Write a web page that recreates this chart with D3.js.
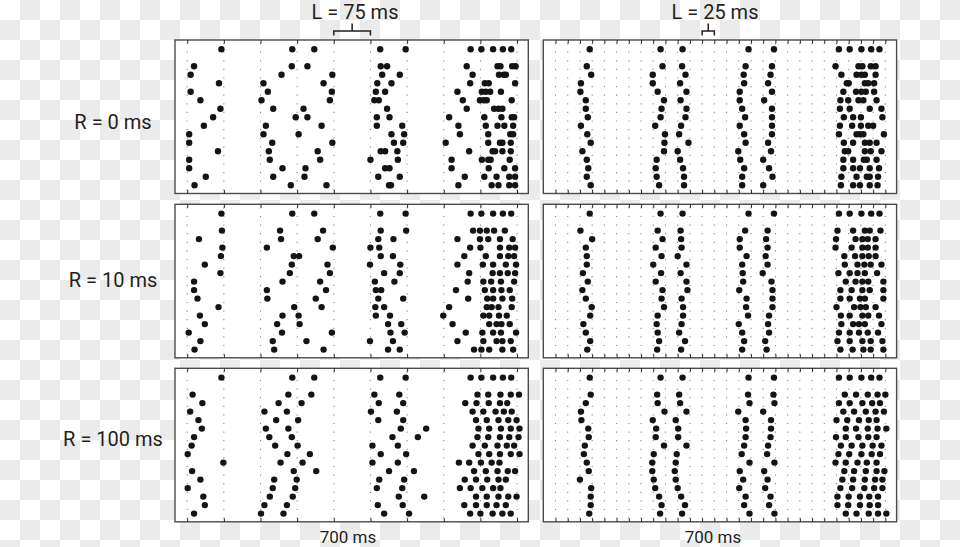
<!DOCTYPE html>
<html><head><meta charset="utf-8">
<script src="https://cdn.jsdelivr.net/npm/d3@7"></script>
<style>html,body{margin:0;padding:0;background:#fff;} svg{display:block;}</style>
</head><body><svg id="c" width="960" height="547"></svg>
<script>
// ---------- data (spike times in ms) ----------
const template = [95, 240, 285, 420, 472, 605, 627, 651, 671, 688];
const rowLabels = ["R = 0 ms", "R = 10 ms", "R = 100 ms"];
const colLabels = ["L = 75 ms", "L = 25 ms"];
const gridStep = [75, 25];
const bracketStart = [325, 325];
const axisLabel = "700 ms";
const timeDomain = [0, 723];

const trials_R0_L75 = [
 [39, 239, 271, 421, 434, 597, 660, 666, 690, 697],
 [32, 218, 322, 424, 460, 609, 663, 673, 677],
 [90, 181, 304, 414, 443, 604, 634, 642, 696],
 [32, 190, 321, 411, 430, 578, 628, 636, 645, 667],
 [52, 177, 317, 408, 417, 589, 624, 632, 638, 689],
 [93, 201, 263, 434, 597, 653, 662, 670],
 [78, 247, 271, 413, 439, 561, 633, 668, 689, 694],
 [59, 186, 300, 413, 465, 580, 636, 660, 674, 692],
 [29, 181, 253, 443, 469, 583, 641, 686, 692],
 [29, 199, 322, 448, 467, 554, 641, 665, 670, 687],
 [88, 192, 292, 421, 430, 455, 602, 650, 655, 670, 687],
 [29, 194, 297, 400, 456, 566, 628, 641, 646, 685],
 [29, 220, 267, 430, 439, 566, 642, 674, 696],
 [63, 201, 265, 416, 460, 593, 633, 658, 684, 696],
 [40, 237, 310, 438, 442, 580, 648, 662, 684, 696]
];
const trials_R10_L75 = [
 [96, 215, 303, 421, 473, 610, 624, 638, 653, 675],
 [49, 217, 292, 416, 447, 578, 624, 641, 665, 691],
 [97, 188, 323, 400, 418, 604, 625, 665, 684, 696],
 [94, 243, 254, 421, 446, 592, 636, 665, 682, 694],
 [61, 239, 312, 399, 461, 578, 630, 651, 677, 698],
 [93, 235, 317, 428, 460, 602, 650, 665, 681, 696],
 [39, 220, 297, 409, 449, 599, 631, 647, 667, 694],
 [39, 188, 309, 411, 422, 575, 634, 651, 668, 685],
 [46, 189, 288, 416, 467, 600, 639, 651, 670, 690],
 [89, 244, 300, 410, 428, 561, 638, 648, 662, 689],
 [51, 220, 253, 411, 440, 549, 631, 643, 663, 679],
 [61, 209, 255, 436, 463, 568, 643, 658, 668, 685],
 [28, 219, 321, 441, 470, 595, 629, 651, 667, 698],
 [52, 200, 269, 399, 446, 578, 631, 658, 670, 687],
 [40, 203, 304, 436, 460, 612, 627, 643, 670, 692]
];
const trials_R100_L75 = [
 [36, 232, 279, 408, 459, 619, 641, 666, 687, 704],
 [56, 212, 259, 417, 467, 594, 617, 642, 665, 680],
 [31, 183, 229, 401, 454, 609, 631, 656, 673, 689],
 [48, 207, 252, 416, 467, 616, 638, 662, 682, 699],
 [55, 186, 232, 462, 514, 621, 643, 667, 687, 705],
 [39, 193, 239, 445, 497, 619, 641, 665, 684, 703],
 [34, 205, 251, 404, 456, 609, 634, 660, 679, 694],
 [26, 230, 276, 421, 473, 621, 643, 665, 687, 705],
 [99, 216, 261, 404, 456, 581, 602, 626, 648, 664],
 [35, 243, 289, 438, 489, 612, 636, 660, 681, 696],
 [52, 203, 249, 418, 469, 593, 616, 639, 662, 677],
 [26, 200, 246, 413, 465, 583, 605, 629, 651, 666],
 [58, 194, 241, 458, 510, 616, 638, 662, 682, 699],
 [61, 183, 229, 415, 466, 592, 616, 638, 658, 677],
 [39, 176, 222, 428, 479, 604, 625, 650, 670, 687]
];
const trials_R0_L25 = [
 [89, 244, 284, 414, 468, 598, 645, 653, 670, 680],
 [98, 224, 291, 410, 465, 610, 641, 651, 658, 680],
 [77, 224, 280, 411, 460, 621, 625, 658, 665, 677],
 [76, 234, 293, 402, 468, 614, 640, 651, 660, 677],
 [87, 247, 281, 402, 452, 608, 624, 645, 655, 682],
 [87, 242, 293, 407, 468, 607, 627, 668, 692],
 [91, 240, 291, 413, 468, 615, 634, 650, 694],
 [77, 229, 282, 402, 468, 607, 632, 650, 665, 675],
 [90, 249, 278, 411, 468, 605, 641, 648, 655, 697],
 [97, 248, 297, 414, 460, 615, 634, 658, 668, 682],
 [80, 247, 275, 399, 466, 617, 624, 658, 670, 692],
 [89, 232, 280, 403, 450, 614, 634, 656, 662, 682],
 [92, 230, 286, 411, 462, 614, 634, 648, 668, 687],
 [89, 232, 288, 407, 469, 610, 641, 662, 668, 685],
 [97, 237, 288, 407, 450, 609, 634, 648, 668, 684]
];
const trials_R10_L25 = [
 [76, 234, 281, 413, 459, 602, 634, 658, 668, 690],
 [100, 244, 282, 402, 456, 599, 639, 653, 664, 680],
 [87, 230, 283, 402, 459, 598, 631, 653, 664, 680],
 [89, 242, 275, 416, 455, 616, 638, 653, 666, 680],
 [89, 225, 293, 407, 459, 617, 643, 657, 670, 692],
 [81, 241, 281, 408, 449, 604, 627, 643, 658, 683],
 [91, 230, 293, 409, 467, 619, 639, 653, 665, 696],
 [80, 244, 295, 401, 469, 608, 631, 653, 668, 696],
 [87, 242, 283, 416, 469, 608, 627, 648, 658, 696],
 [99, 247, 286, 415, 469, 600, 636, 649, 660, 680],
 [96, 234, 286, 419, 462, 609, 627, 653, 665, 687],
 [82, 232, 283, 400, 460, 610, 634, 646, 658, 692],
 [87, 234, 278, 407, 462, 605, 627, 646, 664, 685],
 [96, 237, 290, 411, 454, 602, 627, 653, 670, 694],
 [90, 233, 282, 407, 457, 608, 633, 655, 670, 696]
];
const trials_R100_L25 = [
 [97, 233, 278, 419, 471, 617, 640, 664, 684, 700],
 [87, 234, 280, 422, 473, 605, 627, 653, 673, 689],
 [77, 248, 293, 399, 450, 614, 636, 660, 680, 697],
 [78, 224, 271, 414, 466, 600, 622, 646, 666, 682],
 [92, 231, 276, 415, 466, 619, 640, 664, 684, 702],
 [93, 230, 276, 414, 465, 599, 619, 645, 665, 682],
 [85, 247, 293, 411, 460, 609, 631, 653, 674, 692],
 [83, 226, 273, 406, 458, 604, 626, 651, 672, 689],
 [89, 223, 271, 422, 473, 598, 619, 643, 662, 682],
 [93, 223, 269, 402, 452, 616, 636, 660, 682, 698],
 [75, 226, 271, 409, 459, 612, 634, 658, 679, 694],
 [98, 229, 275, 401, 454, 608, 632, 657, 677, 694],
 [97, 237, 282, 414, 465, 602, 625, 648, 667, 685],
 [97, 242, 290, 411, 462, 602, 624, 648, 668, 685],
 [94, 239, 284, 422, 473, 619, 641, 666, 685, 702]
];

const panels = [
 {row: 0, col: 0, trials: trials_R0_L75},
 {row: 1, col: 0, trials: trials_R10_L75},
 {row: 2, col: 0, trials: trials_R100_L75},
 {row: 0, col: 1, trials: trials_R0_L25},
 {row: 1, col: 1, trials: trials_R10_L25},
 {row: 2, col: 1, trials: trials_R100_L25}
];

// ---------- layout ----------
const colX = [175, 543.3], panelW = 353.3;
const rowY = [40, 204.3, 368.3], panelH = 153.5;
const FONT = "Roboto, 'Open Sans', sans-serif";
const INK = "#4a4a4a";

const svg = d3.select("#c");
const defs = svg.append("defs");
const pat = defs.append("pattern").attr("id", "chk")
  .attr("width", 40).attr("height", 40).attr("patternUnits", "userSpaceOnUse");
pat.append("rect").attr("width", 40).attr("height", 40).attr("fill", "#fff");
pat.append("rect").attr("x", 20).attr("y", 0).attr("width", 20).attr("height", 20).attr("fill", "#ebebeb");
pat.append("rect").attr("x", 0).attr("y", 20).attr("width", 20).attr("height", 20).attr("fill", "#ebebeb");
svg.append("rect").attr("width", 960).attr("height", 547).attr("fill", "url(#chk)");

const xScales = colX.map(x0 => d3.scaleLinear().domain(timeDomain).range([x0, x0 + panelW]));

panels.forEach(p => {
  const x = xScales[p.col];
  const top = rowY[p.row];
  const y = d3.scaleLinear().domain([0, 16]).range([top + 9.3, top + 145.3]);
  const g = svg.append("g");
  g.append("rect").attr("x", colX[p.col]).attr("y", top).attr("width", panelW).attr("height", panelH)
    .attr("fill", "#fff");
  const step = gridStep[p.col];
  const grid = d3.range(25, 701, step);
  g.selectAll("line.grid").data(grid).join("line").attr("class", "grid")
    .attr("x1", d => x(d)).attr("x2", d => x(d))
    .attr("y1", top + 3).attr("y2", top + panelH - 2)
    .attr("stroke", "#8a8a8a").attr("stroke-width", 1.1)
    .attr("stroke-dasharray", "1.2 7.4");
  const rows = [{i: 0, t: template}].concat(p.trials.map((t, k) => ({i: k + 2, t})));
  const pts = [];
  rows.forEach(r => r.t.forEach(v => pts.push({i: r.i, v})));
  g.selectAll("circle").data(pts).join("circle")
    .attr("cx", d => x(d.v)).attr("cy", d => y(d.i)).attr("r", 3.2).attr("fill", "#141414");
  g.append("rect").attr("x", colX[p.col]).attr("y", top).attr("width", panelW).attr("height", panelH)
    .attr("fill", "none").attr("stroke", INK).attr("stroke-width", 1.4);
  const axT = d3.axisBottom(x).tickValues(grid).tickSize(3.5).tickFormat("");
  const axB = d3.axisTop(x).tickValues(grid).tickSize(3.5).tickFormat("");
  const gt = g.append("g").attr("transform", `translate(0,${top})`).call(axT);
  const gb = g.append("g").attr("transform", `translate(0,${top + panelH})`).call(axB);
  [gt, gb].forEach(a => {
    a.select(".domain").remove();
    a.selectAll(".tick line").attr("stroke", "#222").attr("stroke-width", 1);
  });
});

// row labels
const rowLabelY = [128.5, 287, 446];
rowLabels.forEach((s, k) => {
  svg.append("text").attr("x", 113).attr("y", rowLabelY[k]).attr("text-anchor", "middle")
    .attr("font-family", FONT).attr("font-size", 20).attr("fill", "#231f20").text(s);
});

// column labels + brackets
const colLabelX = [355, 715];
colLabels.forEach((s, c) => {
  svg.append("text").attr("x", colLabelX[c]).attr("y", 19).attr("text-anchor", "middle")
    .attr("font-family", FONT).attr("font-size", 20).attr("fill", "#231f20").text(s);
  const x = xScales[c];
  const a = x(bracketStart[c]), b = x(bracketStart[c] + gridStep[c]);
  const m = (a + b) / 2;
  svg.append("path")
    .attr("d", `M${a},35.5 V31 H${b} V35.5 M${m},31 V23.5`)
    .attr("fill", "none").attr("stroke", "#231f20").attr("stroke-width", 1.5);
});

// axis labels
const axisLabelX = [348, 713];
axisLabelX.forEach(xx => {
  svg.append("text").attr("x", xx).attr("y", 542.5).attr("text-anchor", "middle")
    .attr("font-family", FONT).attr("font-size", 17).attr("fill", "#231f20").text(axisLabel);
});
</script>
</body></html>
